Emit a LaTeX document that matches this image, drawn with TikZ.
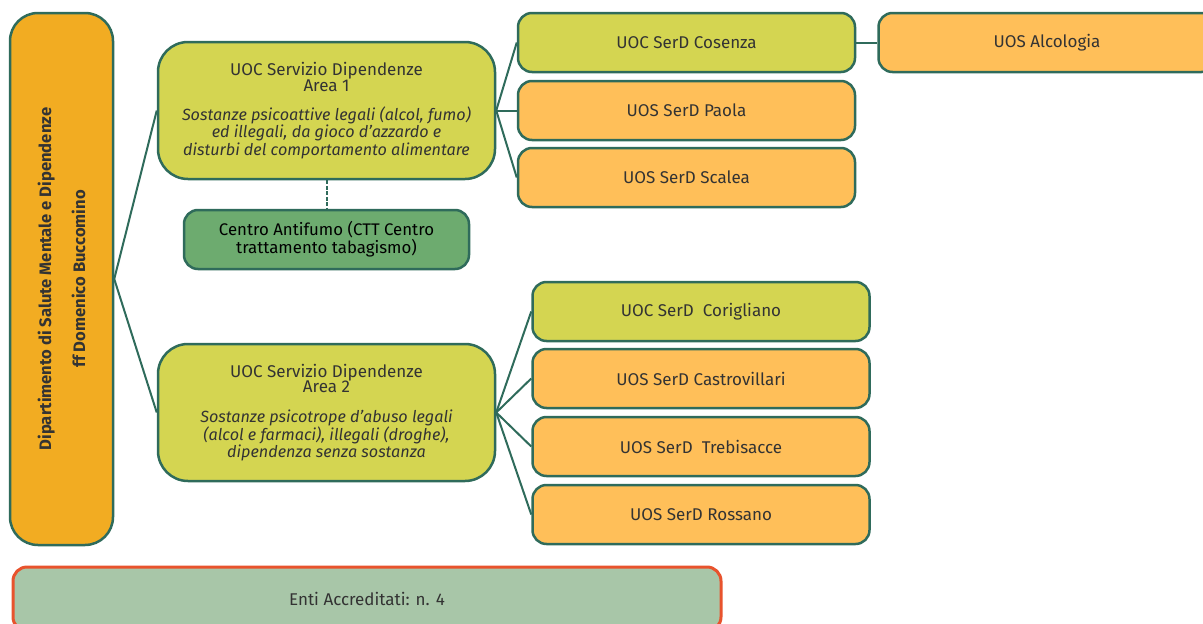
\documentclass[tikz,border=0pt]{standalone}
\usepackage{fontspec}
\setmainfont{Fira Sans}
\usetikzlibrary{positioning}

\definecolor{edgeteal}{HTML}{2F6B5B}
\definecolor{deptorange}{HTML}{F2AC22}
\definecolor{uocgreen}{HTML}{D4D551}
\definecolor{uosorange}{HTML}{FFBF59}
\definecolor{ctgreen}{HTML}{6DAB6F}
\definecolor{entigreen}{HTML}{A8C6A8}
\definecolor{entired}{HTML}{E8532D}
\definecolor{labelgray}{HTML}{333333}

\tikzset{
	box/.style={draw=edgeteal, line width=2.5pt, rounded corners=14pt, inner sep=0pt,
		align=center, text=labelgray, font=\fontsize{17}{16}\selectfont},
	uocbox/.style={box, fill=uocgreen, minimum width=337pt, minimum height=59pt},
	uosbox/.style={box, fill=uosorange, minimum width=337pt, minimum height=59pt},
	areabox/.style={box, fill=uocgreen, rounded corners=30pt, minimum width=337pt, minimum height=137pt,
		font=\fontsize{17}{15.5}\selectfont},
	link/.style={draw=edgeteal, line width=2pt},
}

\begin{document}
\begin{tikzpicture}[x=1pt, y=-1pt]
		%%%%% START %%%%%
		\useasboundingbox (0,0) rectangle (1203,624);
		
		\node[box, fill=deptorange, rotate=90, rounded corners=28pt, minimum width=532pt, minimum height=103pt,
			font=\fontsize{16.6}{16}\selectfont\bfseries] (dept) at (61.5,279)
			{Dipartimento di Salute Mentale e Dipendenze\\[16pt]ff Domenico Buccomino};
		
		\node[areabox] (area1) at (326.5,110.5)
			{UOC Servizio Dipendenze\\Area 1\\[14pt]
			\fontsize{16.2}{16}\selectfont\itshape Sostanze psicoattive legali (alcol, fumo)\\
			\fontsize{16.2}{16}\selectfont\itshape ed illegali, da gioco d'azzardo e\\
			\fontsize{16.2}{16}\selectfont\itshape disturbi del comportamento alimentare};
		\node[box, fill=ctgreen, text=black, minimum width=285pt, minimum height=59pt,
			font=\fontsize{16.8}{14}\selectfont] (antifumo) at (326.5,239.5)
			{Centro Antifumo (CTT Centro\\trattamento tabagismo)};
		
		\node[areabox] (area2) at (326.5,412.5)
			{UOC Servizio Dipendenze\\Area 2\\[14pt]
			\fontsize{16.2}{16}\selectfont\itshape Sostanze psicotrope d'abuso legali\\
			\fontsize{16.2}{16}\selectfont\itshape (alcol e farmaci), illegali (droghe),\\
			\fontsize{16.2}{16}\selectfont\itshape dipendenza senza sostanza};
		
		\node[uocbox] (cosenza) at (686.5,42.5) {UOC SerD Cosenza};
		\node[uosbox] (alcologia) at (1047,42.5) {UOS Alcologia};
		\node[uosbox] (paola) at (686.5,110.5) {UOS SerD Paola};
		\node[uosbox] (scalea) at (686.5,177.5) {UOS SerD Scalea};
		
		\node[uocbox] (corigliano) at (701,311.5) {UOC SerD\ \ Corigliano};
		\node[uosbox] (castrovillari) at (701,378.5) {UOS SerD Castrovillari};
		\node[uosbox] (trebisacce) at (701,446.5) {UOS SerD\ \ Trebisacce};
		\node[uosbox] (rossano) at (701,514.5) {UOS SerD Rossano};
		
		\node[box, draw=entired, line width=3pt, fill=entigreen, minimum width=708pt, minimum height=64pt] (enti) at (367,599)
			{Enti Accreditati: n. 4};
		
		\draw[link] (dept.south) -- (area1.west);
		\draw[link] (dept.south) -- (area2.west);
		\draw[link, line width=2pt, dash pattern=on 4pt off 1.5pt] (area1.south) -- (antifumo.north);
		
		\foreach \unit in {cosenza, paola, scalea}
			\draw[link] (area1.east) -- (\unit.west);
		\foreach \unit in {corigliano, castrovillari, trebisacce, rossano}
			\draw[link] (area2.east) -- (\unit.west);
		\draw[link] (cosenza.east) -- (alcologia.west);
		%%%%% END %%%%%
	\end{tikzpicture}
\end{document}
